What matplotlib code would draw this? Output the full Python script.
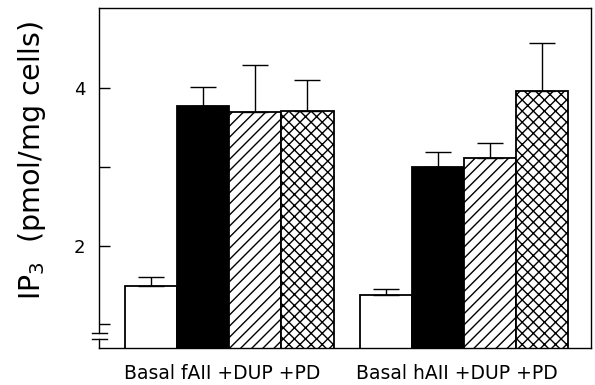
import numpy as np
import matplotlib
matplotlib.use('Agg')
import matplotlib.pyplot as plt

# --- Datos: IP3 (pmol/mg células), media y error (solo hacia arriba) ---
grupos = ['Basal fAII +DUP +PD', 'Basal hAII +DUP +PD']
media_f = [1.49, 3.77, 3.70, 3.71]
error_f = [0.11, 0.25, 0.60, 0.40]
media_h = [1.37, 3.00, 3.12, 3.97]
error_h = [0.085, 0.19, 0.18, 0.60]

# estilo de cada barra dentro del grupo: basal, agonista, +DUP, +PD
rellenos = ['white', 'black', 'white', 'white']
tramas = ['', '', '///', 'xxx']

plt.rcParams['hatch.linewidth'] = 1.0

fig = plt.figure(figsize=(5.95, 3.85), dpi=100)
ax = fig.add_axes([0.1664, 0.0974, 0.8269, 0.8818])

ancho = 1.0
x_f = np.arange(4) * ancho
x_h = x_f + 4.5
for xs, medias, errores in [(x_f, media_f, error_f), (x_h, media_h, error_h)]:
    for x, m, c, t in zip(xs, medias, rellenos, tramas):
        ax.bar(x, m, width=ancho, color=c, edgecolor='black', hatch=t,
               linewidth=1.3, zorder=2)
    ax.errorbar(xs, medias, yerr=[np.zeros(len(errores)), errores], fmt='none',
                ecolor='black', elinewidth=1.0, capsize=9.7, capthick=1.0, zorder=3)

ax.set_xlim(-1.0, 8.44)
ax.set_ylim(0.706, 5.02)

ax.set_yticks([1, 2, 3, 4])
ax.set_yticklabels(['', '2', '', '4'])
ax.tick_params(axis='y', direction='in', length=8, width=1.0, pad=10, labelsize=13)
# las etiquetas de grupo van algo corridas a la izquierda del centro
ax.set_xticks([x_f.mean() - 0.13, x_h.mean() - 0.13])
ax.set_xticklabels(grupos)
ax.tick_params(axis='x', length=0, pad=12, labelsize=13.5)

ax.set_ylabel('IP$_3$  (pmol/mg cells)', fontsize=20.5)
ax.yaxis.set_label_coords(-0.104, 0.55)

for s in ax.spines.values():
    s.set_linewidth(1.0)

# corte del eje y cerca de la base
ax.spines['left'].set_visible(False)
y_c1, y_c2 = 0.815, 0.891
ax.plot([0, 0], [ax.get_ylim()[0], y_c1], color='black', lw=1.0,
        transform=ax.get_yaxis_transform(), clip_on=False)
ax.plot([0, 0], [y_c2, ax.get_ylim()[1]], color='black', lw=1.0,
        transform=ax.get_yaxis_transform(), clip_on=False)
for yc in (y_c1, y_c2):
    ax.plot([-0.014, 0.016], [yc, yc], color='black', lw=1.0,
            transform=ax.get_yaxis_transform(), clip_on=False)

fig.savefig('out.png', dpi=100)
